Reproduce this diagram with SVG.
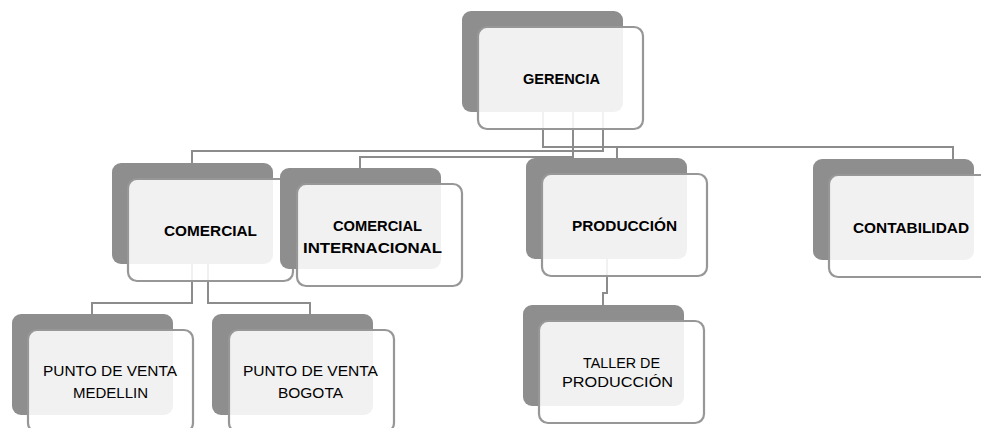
<svg xmlns="http://www.w3.org/2000/svg" width="981" height="428" viewBox="0 0 981 428">
<style>
.back{fill:#8e8e8e;}
.front{fill:#ffffff;fill-opacity:0.88;stroke:#979797;stroke-width:2.2;}
.conn{fill:none;stroke:#8c8c8c;stroke-width:2;}
.b{font-family:"Liberation Sans",Arial,sans-serif;font-weight:bold;font-size:14.5px;fill:#000;}
.r{font-family:"Liberation Sans",Arial,sans-serif;font-size:14px;fill:#000;}
</style>
<rect width="981" height="428" fill="#ffffff"/>
<g id="connectors">
<path class="conn" d="M543,112 V147 H617 V158"/>
<path class="conn" d="M603,112 V147 H953 V159"/>
<path class="conn" d="M603,112 V151 H192 V163"/>
<path class="conn" d="M573,112 V157 H360 V168"/>
<path class="conn" d="M192,263 V303 H92 V314"/>
<path class="conn" d="M208,263 V303 H310 V314"/>
<path class="conn" d="M607,258 V293 H603 V305"/>
</g>
<g id="gerencia">
<rect class="back" x="462" y="11" width="161" height="101" rx="9"/>
<rect class="front" x="478" y="27" width="165" height="102" rx="9"/>
<text class="b" x="523" y="84" textLength="77" lengthAdjust="spacingAndGlyphs">GERENCIA</text>
</g>
<g id="comercial">
<rect class="back" x="112" y="163" width="161" height="101" rx="9"/>
<rect class="front" x="128" y="179" width="165" height="102" rx="9"/>
<text class="b" x="164" y="236" textLength="93" lengthAdjust="spacingAndGlyphs">COMERCIAL</text>
</g>
<g id="comercial-internacional">
<rect class="back" x="280" y="168" width="161" height="101" rx="9"/>
<rect class="front" x="297" y="184" width="165" height="102" rx="9"/>
<text class="b" x="333" y="231" textLength="89" lengthAdjust="spacingAndGlyphs">COMERCIAL</text>
<text class="b" x="303" y="253" textLength="139" lengthAdjust="spacingAndGlyphs">INTERNACIONAL</text>
</g>
<g id="produccion">
<rect class="back" x="526" y="158" width="161" height="101" rx="9"/>
<rect class="front" x="542" y="174" width="165" height="102" rx="9"/>
<text class="b" x="572" y="231" textLength="105" lengthAdjust="spacingAndGlyphs">PRODUCCIÓN</text>
</g>
<g id="contabilidad">
<rect class="back" x="813" y="159" width="161" height="101" rx="9"/>
<rect class="front" x="829" y="175" width="165" height="102" rx="9"/>
<text class="b" x="853" y="233" textLength="116" lengthAdjust="spacingAndGlyphs">CONTABILIDAD</text>
</g>
<g id="punto-medellin">
<rect class="back" x="12" y="314" width="161" height="101" rx="9"/>
<rect class="front" x="28" y="330" width="165" height="102" rx="9"/>
<text class="r" x="43" y="376" textLength="134" lengthAdjust="spacingAndGlyphs">PUNTO DE VENTA</text>
<text class="r" x="73" y="398" textLength="75" lengthAdjust="spacingAndGlyphs">MEDELLIN</text>
</g>
<g id="punto-bogota">
<rect class="back" x="212" y="314" width="161" height="101" rx="9"/>
<rect class="front" x="229" y="330" width="165" height="102" rx="9"/>
<text class="r" x="243" y="376" textLength="135" lengthAdjust="spacingAndGlyphs">PUNTO DE VENTA</text>
<text class="r" x="278" y="398" textLength="65" lengthAdjust="spacingAndGlyphs">BOGOTA</text>
</g>
<g id="taller">
<rect class="back" x="523" y="305" width="161" height="101" rx="9"/>
<rect class="front" x="539" y="321" width="165" height="102" rx="9"/>
<text class="r" x="583" y="368" textLength="77" lengthAdjust="spacingAndGlyphs">TALLER DE</text>
<text class="r" x="562" y="387" textLength="111" lengthAdjust="spacingAndGlyphs">PRODUCCIÓN</text>
</g>
</svg>
